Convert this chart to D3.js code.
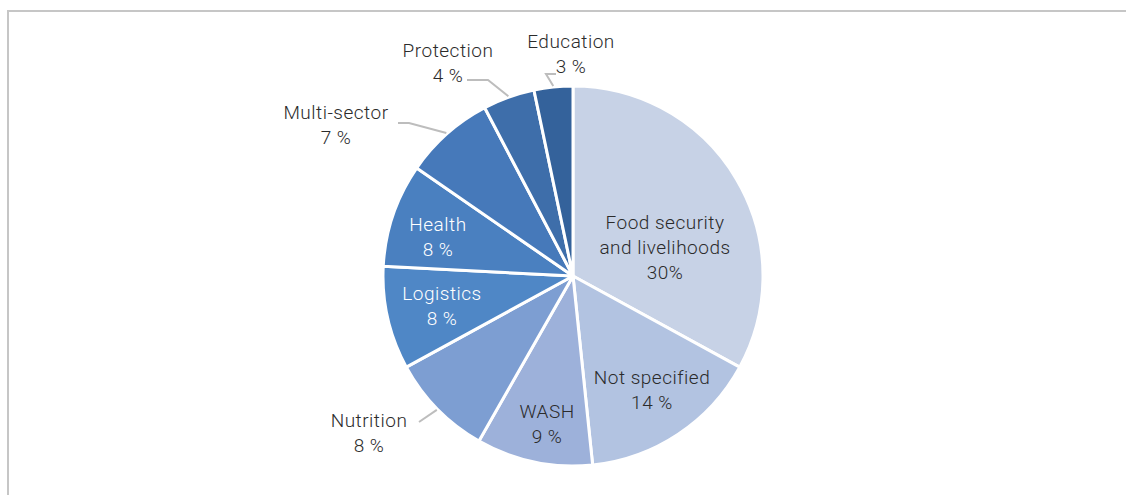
<!DOCTYPE html>
<html lang="en">
<head>
  <meta charset="UTF-8">
  <title>Funding by sector</title>
  <script src="https://d3js.org/d3.v7.min.js"></script>
  <style>
    body { margin: 0; background: #fff; }
    text { font-family: "Roboto", "Noto Sans", sans-serif; font-size: 19px; letter-spacing: 0.5px; font-weight: 300; }
  </style>
</head>
<body>
  <div id="chart"></div>
  <script>
    // Sector data (clockwise from 12 o'clock)
    const sectors = ["Food security and livelihoods", "Not specified", "WASH", "Nutrition",
      "Logistics", "Health", "Multi-sector", "Protection", "Education"];
    const shares = [30, 14, 9, 8, 8, 8, 7, 4, 3];
    const shareLabels = ["30%", "14 %", "9 %", "8 %", "8 %", "8 %", "7 %", "4 %", "3 %"];
    const colors = ["#c7d2e6", "#b2c3e1", "#9db1da", "#7d9ed2", "#4f87c6",
      "#4a80c0", "#4679ba", "#3e6eaa", "#34629b"];

    // Label layout: name lines, centre of text block, optional leader elbow
    const labelLayout = [
      { lines: ["Food security", "and livelihoods"], x: 665, y: 222, fill: "#2b2b2b" },
      { lines: ["Not specified"], x: 652, y: 377, fill: "#2b2b2b" },
      { lines: ["WASH"], x: 547, y: 411, fill: "#2b2b2b" },
      { lines: ["Nutrition"], x: 369, y: 420, fill: "#2b2b2b", elbow: [[419, 422]] },
      { lines: ["Logistics"], x: 442, y: 293, fill: "#fff" },
      { lines: ["Health"], x: 438, y: 224, fill: "#fff" },
      { lines: ["Multi-sector"], x: 336, y: 112, fill: "#2b2b2b", elbow: [[398, 123], [409, 123]] },
      { lines: ["Protection"], x: 448, y: 50, fill: "#2b2b2b", elbow: [[467, 80], [488, 80]] },
      { lines: ["Education"], x: 571, y: 41, fill: "#2b2b2b", elbow: [[556, 74], [546, 74]] }
    ];

    const W = 1126, H = 495;
    const cx = 573, cy = 276, radius = 190;

    const svg = d3.select("#chart").append("svg")
      .attr("width", W).attr("height", H);

    // frame (top + left edges visible)
    svg.append("path")
      .attr("d", "M8,495 V11 H1126")
      .attr("fill", "none")
      .attr("stroke", "#c6c6c6")
      .attr("stroke-width", 2);

    const data = sectors.map((s, i) => ({ name: s, value: shares[i], i: i }));
    const pie = d3.pie().value(d => d.value).sort(null);
    const arc = d3.arc().innerRadius(0).outerRadius(radius);
    const arcs = pie(data);

    const g = svg.append("g").attr("transform", `translate(${cx},${cy})`);

    g.selectAll("path.slice")
      .data(arcs)
      .enter()
      .append("path")
      .attr("class", "slice")
      .attr("d", arc)
      .attr("fill", d => colors[d.data.i])
      .attr("stroke", "#fff")
      .attr("stroke-width", 3)
      .attr("stroke-linejoin", "round");

    // leader lines
    arcs.forEach(d => {
      const lay = labelLayout[d.data.i];
      if (!lay.elbow) return;
      const mid = (d.startAngle + d.endAngle) / 2;
      const r = radius + 1;
      const end = [cx + r * Math.sin(mid), cy - r * Math.cos(mid)];
      svg.append("path")
        .attr("d", d3.line()(lay.elbow.concat([end])))
        .attr("fill", "none")
        .attr("stroke", "#bdbdbd")
        .attr("stroke-width", 2);
    });

    // labels
    const lineH = 25;
    labelLayout.forEach((lay, i) => {
      const t = svg.append("text")
        .attr("text-anchor", "middle")
        .attr("fill", lay.fill);
      lay.lines.concat([shareLabels[i]]).forEach((ln, k) => {
        t.append("tspan")
          .attr("x", lay.x)
          .attr("y", lay.y + k * lineH)
          .attr("dy", "0.35em")
          .text(ln);
      });
    });
  </script>
</body>
</html>
